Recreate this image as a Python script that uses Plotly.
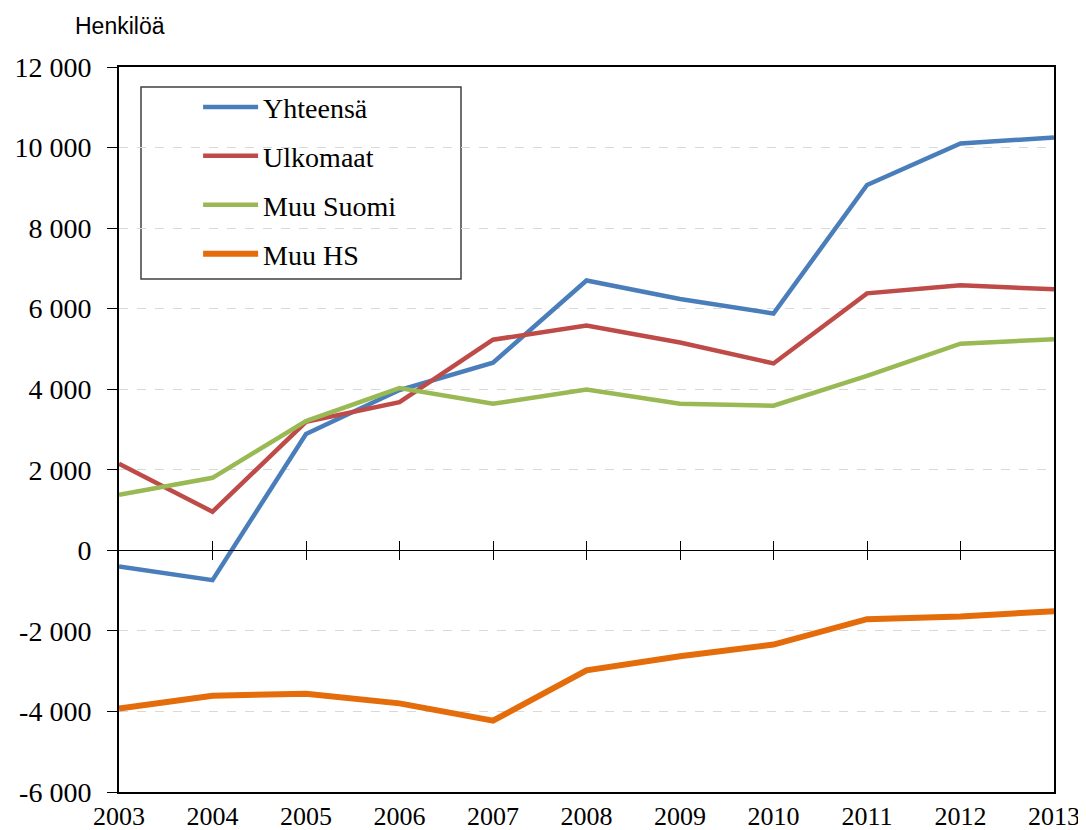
import plotly.graph_objects as go

years = list(range(2003, 2014))

yhteensa = [-400, -740, 2890, 3980, 4660, 6700, 6240, 5880, 9070, 10100, 10250]
ulkomaat = [2150, 960, 3190, 3680, 5230, 5580, 5160, 4640, 6380, 6580, 6480]
muu_suomi = [1380, 1800, 3210, 4030, 3640, 3990, 3640, 3590, 4330, 5130, 5240]
muu_hs = [-3930, -3610, -3560, -3800, -4230, -2980, -2630, -2340, -1710, -1640, -1510]

series_names = ["Yhteensä", "Ulkomaat", "Muu Suomi", "Muu HS"]
y_ticks = [-6000, -4000, -2000, 0, 2000, 4000, 6000, 8000, 10000, 12000]

colors = ["#4a7ebb", "#be4b48", "#98b954", "#e46c0a"]
widths = [4.5, 4.5, 4.5, 6]

SERIF = "Liberation Serif"

# plot area in page pixels (the page body adds ~7px offset)
OFF = 7
PL, PT, PW, PH = 118, 66, 935, 725


def fmt(v):
    s = f"{abs(v):,}".replace(",", " ")
    return ("-" if v < 0 else "") + s


def px(x):
    return (x - PL) / PW


def py(y):
    return (PT + PH - y) / PH


fig = go.Figure()
for i, (name, vals) in enumerate(zip(series_names, [yhteensa, ulkomaat, muu_suomi, muu_hs])):
    fig.add_trace(
        go.Scatter(
            x=years,
            y=vals,
            name=name,
            mode="lines",
            line=dict(color=colors[i], width=widths[i]),
            legendgroup=name,
        )
    )

# empty traces so the zero-line axes get drawn
fig.add_trace(go.Scatter(x=years, y=[None] * len(years), xaxis="x2", showlegend=False))
fig.add_trace(go.Scatter(x=years, y=[None] * len(years), xaxis="x3", showlegend=False))

zero_axis = dict(
    range=[2003, 2013],
    overlaying="x",
    anchor="free",
    position=1 / 3,
    tickvals=years[1:-1],
    showticklabels=False,
    showline=True,
    linecolor="black",
    linewidth=1,
    tickcolor="black",
    ticklen=9,
    tickwidth=1,
    showgrid=False,
    zeroline=False,
    automargin=False,
)

fig.update_layout(
    width=1086 - OFF,
    height=830 - OFF,
    margin=dict(l=PL - OFF, r=1086 - PL - PW, t=PT - OFF, b=830 - PT - PH),
    paper_bgcolor="white",
    plot_bgcolor="white",
    showlegend=True,
    xaxis=dict(
        range=[2003, 2013],
        tickvals=years,
        ticktext=[str(y) for y in years],
        tickfont=dict(family=SERIF, size=26, color="black"),
        showline=True,
        linecolor="black",
        linewidth=2,
        mirror=True,
        ticks="",
        showgrid=False,
        zeroline=False,
        automargin=False,
    ),
    xaxis2=dict(zero_axis, ticks="outside"),
    xaxis3=dict(zero_axis, ticks="inside"),
    yaxis=dict(
        range=[-6000, 12000],
        tickvals=y_ticks,
        ticktext=[fmt(v) for v in y_ticks],
        tickfont=dict(family=SERIF, size=28, color="black"),
        showline=True,
        linecolor="black",
        linewidth=2,
        mirror=True,
        ticks="outside",
        ticklen=10,
        tickcolor="black",
        tickwidth=1,
        ticklabelstandoff=10,
        showgrid=True,
        gridcolor="#d9d9d9",
        griddash="dash",
        gridwidth=1,
        zeroline=False,
        automargin=False,
    ),
    legend=dict(
        x=0.0846,
        y=0.979,
        xanchor="left",
        yanchor="top",
        bgcolor="rgba(255,255,255,0)",
        borderwidth=0,
        font=dict(family=SERIF, size=28, color="black"),
        itemwidth=55,
        tracegroupgap=9.5,
        traceorder="grouped",
    ),
    shapes=[
        dict(
            type="rect",
            xref="paper",
            yref="paper",
            x0=px(140),
            x1=px(460),
            y0=py(278),
            y1=py(86),
            line=dict(color="#404040", width=1.5),
            fillcolor="white",
            layer="below",
        )
    ],
    annotations=[
        dict(
            text="Henkilöä",
            xref="paper",
            yref="paper",
            x=px(72),
            y=py(25),
            xanchor="left",
            yanchor="middle",
            showarrow=False,
            font=dict(family="Liberation Sans", size=23, color="black"),
        )
    ],
)

fig.write_html("out.html")
